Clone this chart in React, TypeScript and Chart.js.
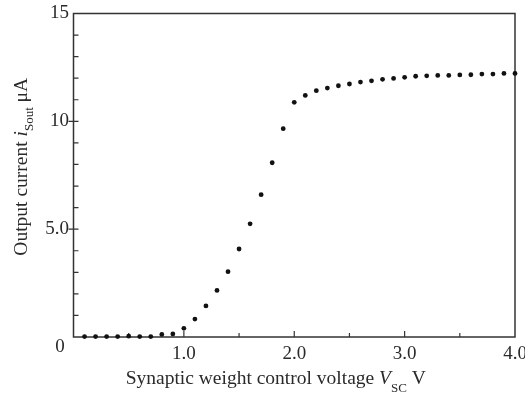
import React, { useEffect, useRef } from "react";
import { Chart, registerables } from "chart.js";

Chart.register(...registerables);

const voltage = [
  0.1, 0.2, 0.3, 0.4, 0.5, 0.6, 0.7, 0.8, 0.9, 1.0,
  1.1, 1.2, 1.3, 1.4, 1.5, 1.6, 1.7, 1.8, 1.9, 2.0,
  2.1, 2.2, 2.3, 2.4, 2.5, 2.6, 2.7, 2.8, 2.9, 3.0,
  3.1, 3.2, 3.3, 3.4, 3.5, 3.6, 3.7, 3.8, 3.9, 4.0,
];
const outputCurrent = [
  0.02, 0.02, 0.02, 0.02, 0.04, 0.02, 0.02, 0.12, 0.14, 0.4,
  0.83, 1.44, 2.16, 3.03, 4.08, 5.25, 6.6, 8.08, 9.66, 10.88,
  11.2, 11.42, 11.54, 11.65, 11.73, 11.82, 11.88, 11.95, 11.99, 12.04,
  12.09, 12.11, 12.13, 12.13, 12.15, 12.16, 12.19, 12.19, 12.22, 12.22,
];

const xLabelValues = [1, 2, 3, 4];
const xLabelTexts = ["1.0", "2.0", "3.0", "4.0"];
const yLabelValues = [5, 10, 15];
const yLabelTexts = ["5.0", "10", "15"];
const originLabel = "0";

const xTitleParts = ["Synaptic weight control voltage ", "V", "SC", " V"];
const yTitleParts = ["Output current ", "i", "Sout", " μA"];

const FONT = '"Liberation Serif", "Times New Roman", serif';
const TEXT_COLOR = "#2a2a2a";
const LINE_COLOR = "#333";

function drawTitle(ctx: CanvasRenderingContext2D, parts: string[], cx: number, cy: number, size: number, subOff: number) {
  const normal = `${size}px ${FONT}`;
  const italic = `italic ${size}px ${FONT}`;
  const small = `${Math.round(size * 0.68)}px ${FONT}`;
  const fonts = [normal, italic, small, normal];
  const offs = [0, 0, subOff, 0];
  const widths = parts.map((p, i) => {
    ctx.font = fonts[i];
    return ctx.measureText(p).width;
  });
  const total = widths.reduce((a, b) => a + b, 0);
  let x = cx - total / 2;
  ctx.textAlign = "left";
  ctx.textBaseline = "alphabetic";
  parts.forEach((p, i) => {
    ctx.font = fonts[i];
    ctx.fillText(p, x, cy + offs[i]);
    x += widths[i];
  });
}

const framePlugin = {
  id: "frameTicks",
  beforeDatasetsDraw(chart: any) {
    const { ctx, chartArea, scales } = chart;
    const { left, right, top, bottom } = chartArea;
    const x = scales.x;
    const y = scales.y;
    ctx.save();
    ctx.strokeStyle = LINE_COLOR;
    ctx.lineWidth = 1.5;
    ctx.strokeRect(left, top, right - left, bottom - top);
    ctx.lineWidth = 1.2;
    ctx.beginPath();
    y.ticks.forEach((t: any) => {
      if (t.value <= y.min || t.value >= y.max) return;
      const py = y.getPixelForValue(t.value);
      const major = t.value % 5 === 0;
      ctx.moveTo(left - (major ? 5 : 0), py);
      ctx.lineTo(left + 5, py);
    });
    x.ticks.forEach((t: any) => {
      if (t.value <= x.min || t.value >= x.max) return;
      const px = x.getPixelForValue(t.value);
      const major = Number.isInteger(t.value);
      ctx.moveTo(px, bottom);
      ctx.lineTo(px, bottom - (major ? 6 : 4));
    });
    ctx.stroke();
    ctx.restore();
  },
  afterDraw(chart: any) {
    const { ctx, chartArea } = chart;
    const { left, right, top, bottom } = chartArea;
    ctx.save();
    ctx.fillStyle = TEXT_COLOR;
    // origin label
    ctx.font = `19px ${FONT}`;
    ctx.textAlign = "center";
    ctx.textBaseline = "middle";
    ctx.fillText(originLabel, left - 13.5, bottom + 10);
    // x title
    drawTitle(ctx, xTitleParts, (left + right) / 2 - 18.5, bottom + 46.5, 19.5, 8.5);
    // y title
    ctx.translate(27, (top + bottom) / 2 - 8.5);
    ctx.rotate(-Math.PI / 2);
    drawTitle(ctx, yTitleParts, 0, 0, 19.5, 6);
    ctx.restore();
  },
};

export default function App() {
  const ref = useRef<HTMLCanvasElement | null>(null);
  useEffect(() => {
    document.body.style.margin = "0";
    if (!ref.current) return;
    const chart = new Chart(ref.current, {
      type: "scatter",
      data: {
        datasets: [
          {
            data: voltage.map((v, i) => ({ x: v, y: outputCurrent[i] })),
            backgroundColor: "#111",
            borderColor: "#111",
            pointRadius: 2.4,
            pointHoverRadius: 2.4,
            borderWidth: 0,
            clip: false as any,
          },
        ],
      },
      options: {
        animation: false,
        responsive: false,
        devicePixelRatio: 1,
        layout: { padding: { top: 13.5, right: 10, left: 0, bottom: 0 } },
        plugins: { legend: { display: false }, tooltip: { enabled: false } },
        scales: {
          x: {
            type: "linear",
            min: 0,
            max: 4,
            grid: { display: false, drawTicks: false },
            border: { display: false },
            ticks: {
              stepSize: 0.5,
              autoSkip: false,
              maxRotation: 0,
              padding: 6,
              color: TEXT_COLOR,
              font: { family: FONT, size: 19 },
              callback: (v: any) => {
                const i = xLabelValues.indexOf(Number(v));
                return i >= 0 ? xLabelTexts[i] : "";
              },
            },
            afterFit: (s: any) => {
              s.height = 57;
              s.paddingLeft = 0;
              s.paddingRight = 0;
            },
          },
          y: {
            type: "linear",
            min: 0,
            max: 15,
            grid: { display: false, drawTicks: false },
            border: { display: false },
            ticks: {
              stepSize: 1,
              autoSkip: false,
              padding: 4.5,
              color: TEXT_COLOR,
              font: { family: FONT, size: 19 },
              callback: (v: any) => {
                const i = yLabelValues.indexOf(Number(v));
                return i >= 0 ? yLabelTexts[i] : "";
              },
            },
            afterFit: (s: any) => {
              s.width = 73.5;
              s.paddingTop = 0;
              s.paddingBottom = 0;
            },
          },
        },
      },
      plugins: [framePlugin],
    });
    return () => chart.destroy();
  }, []);
  return (
    <div style={{ position: "absolute", left: 0, top: 0, width: 525, height: 394, background: "#fff" }}>
      <canvas ref={ref} width={525} height={394} style={{ width: 525, height: 394 }} />
    </div>
  );
}
